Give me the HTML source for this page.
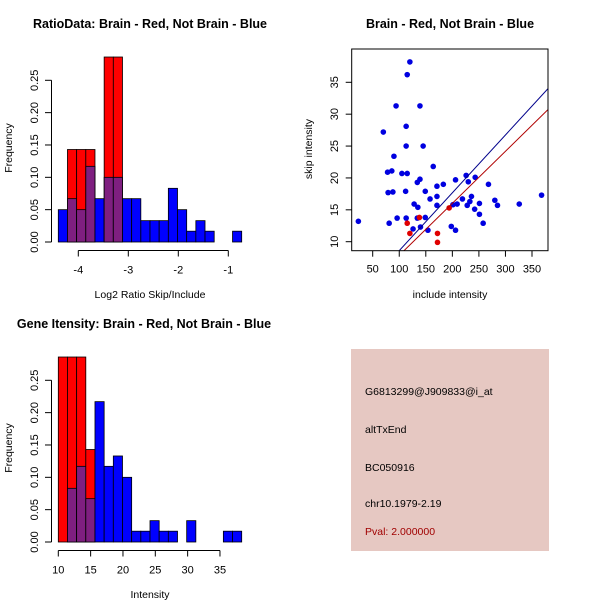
<!DOCTYPE html>
<html><head><meta charset="utf-8"><style>
html,body{margin:0;padding:0;background:#fff;}
svg{display:block;font-family:"Liberation Sans",sans-serif;}
</style></head><body>
<svg id="chart" width="600" height="600" viewBox="0 0 600 600">
<rect x="0" y="0" width="600" height="600" fill="#fff"/>
</svg>
<script>
// ---- data ----
const ratioBlue = [0.05,0.067,0.05,0.117,0.067,0.1,0.1,0.067,0.067,0.033,0.033,0.033,0.083,0.05,0.0167,0.033,0.0167,0,0,0.0167];
const ratioRed  = [0,0.143,0.143,0.143,0,0.286,0.286,0,0,0,0,0,0,0,0,0,0,0,0,0];
const ratioStart = -4.4;
const ratioWidth = 0.1834;
const ratioXTicks = [-4,-3,-2,-1];
const freqTicks = [0,0.05,0.10,0.15,0.20,0.25];
const freqLabels = ["0.00","0.05","0.10","0.15","0.20","0.25"];

const geneBlue = [0,0.083,0.117,0.067,0.217,0.117,0.133,0.1,0.0167,0.0167,0.033,0.0167,0.0167,0,0.033,0,0,0,0.0167,0.0167];
const geneRed  = [0.286,0.286,0.286,0.143,0,0,0,0,0,0,0,0,0,0,0,0,0,0,0,0];
const geneStart = 10;
const geneWidth = 1.418;
const geneXTicks = [10,15,20,25,30,35];

const blueX = [23,70,94,120,115,139,113,113,145,90,78,86,105,115,164,139,134,171,183,206,226,243,268,79,88,112,149,158,171,219,236,230,280,171,128,135,201,209,228,233,251,285,326,368,242,251,96,113,134,149,81,126,140,154,198,206,258];
const blueY = [13.2,27.2,31.3,38.2,36.2,31.3,28.1,25.0,25.0,23.4,20.9,21.1,20.7,20.7,21.8,19.8,19.3,18.7,19.0,19.7,20.4,20.1,19.0,17.7,17.8,17.9,17.9,16.7,17.1,16.7,17.1,19.4,16.5,15.7,15.9,15.4,15.8,15.9,15.7,16.3,16.0,15.7,15.9,17.3,15.1,14.3,13.7,13.7,13.7,13.8,12.9,12.0,12.3,11.8,12.4,11.8,12.9];
const redX = [115,120,138,172,172,194];
const redY = [12.9,11.3,13.8,11.3,9.9,15.3];
const blueLine = [-0.47,0.0907]; // intercept, slope
const redLine = [-0.3,0.0816];
const scatXTicks = [50,100,150,200,250,300,350];
const scatYTicks = [10,15,20,25,30,35];

const svg = document.getElementById('chart');
const NS = 'http://www.w3.org/2000/svg';
function mk(tag, attrs, parent){
  const e = document.createElementNS(NS, tag);
  for (const k in attrs) e.setAttribute(k, attrs[k]);
  (parent||svg).appendChild(e);
  return e;
}
function txt(s, x, y, opts, parent){
  const t = mk('text', Object.assign({x:x,y:y,'font-size':11,'text-anchor':'middle',fill:'#000'}, opts||{}), parent);
  t.textContent = s;
  return t;
}

function histogram(name, top, blue, red, start, width, xTicks, title, xlab, titleX){
  const g = mk('g', {});
  
  
  const y0 = top + 202, y25 = top + 40.3;
  const yS = v => y0 - v * (y0 - y25) / 0.25;
  const xL = 58.3, pxPerBin = 9.17;
  const xS = v => xL + (v - start) / width * pxPerBin;
  for (let i = 0; i < blue.length; i++) {
    const a = start + i * width, b = a + width;
    const x1 = xS(a), x2 = xS(b);
    const r = red[i], bl = blue[i];
    if (r > 0) {
      const rr = mk('rect', {x:x1, y:yS(r), width:x2-x1, height:y0-yS(r), fill:'#ff0000', stroke:'#000', 'stroke-width':0.8}, g);
      
      
    }
    if (bl > 0) {
      const col = r > 0 ? '#7f1f80' : '#0000ff';
      const br = mk('rect', {x:x1, y:yS(bl), width:x2-x1, height:y0-yS(bl), fill:col, stroke:'#000', 'stroke-width':0.8}, g);
      
      
    }
  }
  mk('line', {x1:51.5, x2:51.5, y1:yS(0), y2:yS(0.25), stroke:'#000'}, g);
  freqTicks.forEach((v, i) => {
    mk('line', {x1:45, x2:51.5, y1:yS(v), y2:yS(v), stroke:'#000'}, g);
    txt(freqLabels[i], 38, yS(v), {transform:'rotate(-90 38 '+yS(v)+')'}, g);
  });
  const ya = top + 210.5;
  mk('line', {x1:xS(xTicks[0]), x2:xS(xTicks[xTicks.length-1]), y1:ya, y2:ya, stroke:'#000'}, g);
  xTicks.forEach(v => {
    mk('line', {x1:xS(v), x2:xS(v), y1:ya, y2:ya+6, stroke:'#000'}, g);
    txt(String(v), xS(v), ya + 23, {}, g);
  });
  const t = txt(title, titleX, top - 12, {'font-weight':'bold', 'font-size':12.5}, g);
  
  
  txt(xlab, 150, top + 258, {'font-size':10.5}, g);
  txt('Frequency', 12, top + 108, {'font-size':10.5, transform:'rotate(-90 12 '+(top+108)+')'}, g);
}

histogram('ratio-histogram', 40, ratioBlue, ratioRed, ratioStart, ratioWidth, ratioXTicks, 'RatioData: Brain - Red, Not Brain - Blue', 'Log2 Ratio Skip/Include', 150);
histogram('gene-intensity-histogram', 340, geneBlue, geneRed, geneStart, geneWidth, geneXTicks, 'Gene Itensity: Brain - Red, Not Brain - Blue', 'Intensity', 144);

(function(){
  const g = mk('g', {});
  
  
  const L = 351.7, R = 548, T = 49, B = 250.7;
  const xS = v => 372.7 + (v - 50) * (532 - 372.7) / 300;
  const yS = v => 241.7 - (v - 10) * (241.7 - 82.3) / 25;
  const clip = mk('clipPath', {id:'sc'}, g);
  mk('rect', {x:L, y:T, width:R-L, height:B-T}, clip);
  const pts = mk('g', {'clip-path':'url(#sc)'}, g);
  for (let i = 0; i < blueX.length; i++) {
    const c = mk('circle', {cx:xS(blueX[i]), cy:yS(blueY[i]), r:2.8, fill:'#0000e0'}, pts);
    
    
  }
  for (let i = 0; i < redX.length; i++) {
    const c = mk('circle', {cx:xS(redX[i]), cy:yS(redY[i]), r:2.8, fill:'#e00000'}, pts);
    
    
  }
  const x0 = 0, x1 = 420;
  const bl = mk('line', {x1:xS(x0), y1:yS(blueLine[0]+blueLine[1]*x0), x2:xS(x1), y2:yS(blueLine[0]+blueLine[1]*x1), stroke:'#00008b', 'stroke-width':1}, pts);
  
  
  const rl = mk('line', {x1:xS(x0), y1:yS(redLine[0]+redLine[1]*x0), x2:xS(x1), y2:yS(redLine[0]+redLine[1]*x1), stroke:'#b00000', 'stroke-width':1}, pts);
  
  
  mk('rect', {x:L, y:T, width:R-L, height:B-T, fill:'none', stroke:'#000'}, g);
  scatXTicks.forEach(v => {
    mk('line', {x1:xS(v), x2:xS(v), y1:B, y2:B+6, stroke:'#000'}, g);
    txt(String(v), xS(v), B + 22, {}, g);
  });
  scatYTicks.forEach(v => {
    mk('line', {x1:L-6, x2:L, y1:yS(v), y2:yS(v), stroke:'#000'}, g);
    txt(String(v), 338, yS(v), {transform:'rotate(-90 338 '+yS(v)+')'}, g);
  });
  txt('Brain - Red, Not Brain - Blue', 450, 28, {'font-weight':'bold','font-size':12.5}, g);
  txt('include intensity', 450, 298, {'font-size':10.5}, g);
  txt('skip intensity', 312, 149, {'font-size':10.5, transform:'rotate(-90 312 149)'}, g);
})();

(function(){
  const g = mk('g', {});
  
  
  mk('rect', {x:351, y:349, width:198, height:202, fill:'#e6c8c2'}, g);
  const lines = [['G6813299@J909833@i_at',395,'#000'],['altTxEnd',433,'#000'],['BC050916',471,'#000'],['chr10.1979-2.19',507,'#000'],['Pval: 2.000000',535,'#a00000']];
  lines.forEach(l => {
    const t = txt(l[0], 365, l[1], {'text-anchor':'start', fill:l[2], 'font-size':10.5}, g);
    
    
  });
})();
</script>
</body></html>
